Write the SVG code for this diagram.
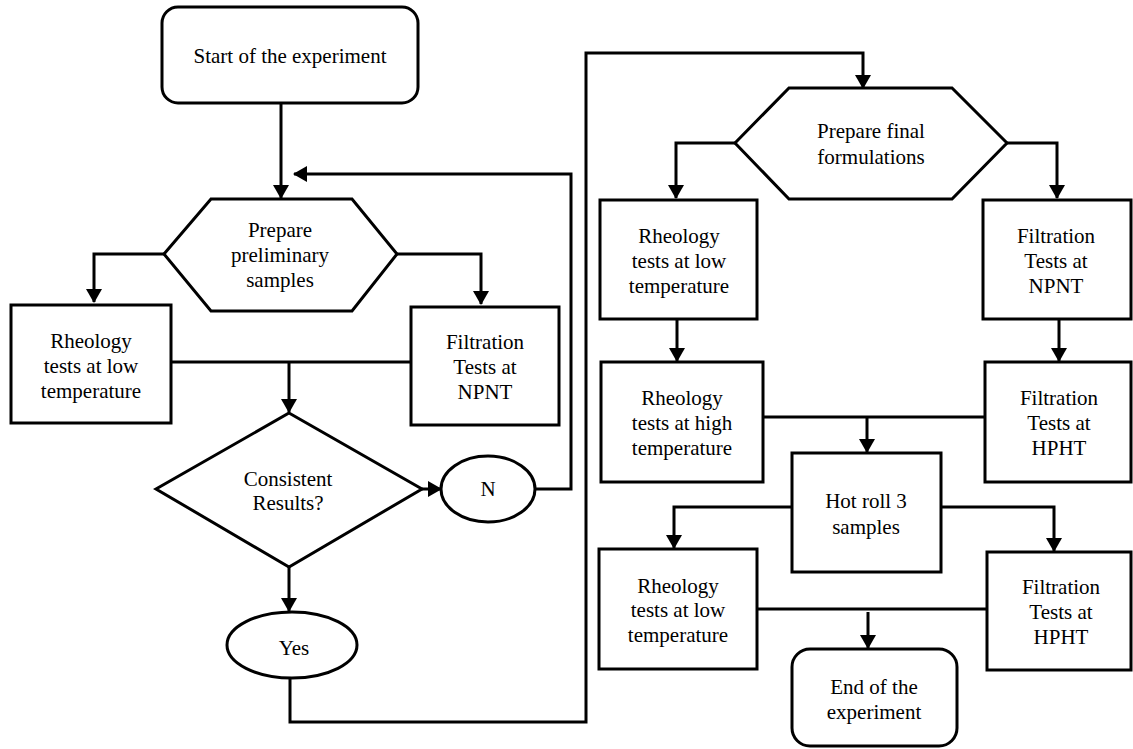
<svg xmlns="http://www.w3.org/2000/svg" width="1133" height="749" viewBox="0 0 1133 749">
<style>
.shape{fill:#fff;stroke:#000;stroke-width:3}
.ln{fill:none;stroke:#000;stroke-width:3}
.t{font-family:'Liberation Serif','DejaVu Serif',serif;font-size:21px;fill:#000;text-anchor:middle}
</style>
<defs>
<marker id="ah" markerUnits="userSpaceOnUse" markerWidth="16" markerHeight="16" viewBox="0 0 14 16" refX="13" refY="8" orient="auto">
<path d="M0,0 L14,8 L0,16 Z" fill="#000"/>
</marker>
</defs>
<rect width="1133" height="749" fill="#fff"/>
<g id="connectors">
<path class="ln" d="M281,103 V198" marker-end="url(#ah)"/>
<path class="ln" d="M164,254 H94 V302" marker-end="url(#ah)"/>
<path class="ln" d="M397,254 H481 V304" marker-end="url(#ah)"/>
<path class="ln" d="M171,362 H411"/>
<path class="ln" d="M289,362 V412" marker-end="url(#ah)"/>
<path class="ln" d="M422,489 H441" marker-end="url(#ah)"/>
<path class="ln" d="M535,489 H571 V174 H294" marker-end="url(#ah)"/>
<path class="ln" d="M289,567 V611" marker-end="url(#ah)"/>
<path class="ln" d="M290,678 V722 H586 V53 H863 V88" marker-end="url(#ah)"/>
<path class="ln" d="M735,143 H676 V198" marker-end="url(#ah)"/>
<path class="ln" d="M1007,143 H1057 V198" marker-end="url(#ah)"/>
<path class="ln" d="M677,320 V361" marker-end="url(#ah)"/>
<path class="ln" d="M1059,320 V361" marker-end="url(#ah)"/>
<path class="ln" d="M763,417 H985"/>
<path class="ln" d="M867,417 V452" marker-end="url(#ah)"/>
<path class="ln" d="M792,507 H674 V548" marker-end="url(#ah)"/>
<path class="ln" d="M941,507 H1054 V551" marker-end="url(#ah)"/>
<path class="ln" d="M757,609 H987"/>
<path class="ln" d="M868,612 V648" marker-end="url(#ah)"/>
</g>
<g class="t" font-family="'Liberation Serif','DejaVu Serif',serif">
<g id="start">
<rect class="shape" x="162" y="7" width="256" height="96" rx="16"/>
<text x="290" y="63">Start of the experiment</text>
</g>
<g id="prep1">
<polygon class="shape" points="164,254 211,199 352,199 397,254 352,311 211,311"/>
<text x="280" y="237">Prepare</text>
<text x="280" y="262">preliminary</text>
<text x="280" y="287">samples</text>
</g>
<g id="rheo1">
<rect class="shape" x="11" y="305" width="160" height="118"/>
<text x="91" y="348">Rheology</text>
<text x="91" y="373">tests at low</text>
<text x="91" y="398">temperature</text>
</g>
<g id="filt1">
<rect class="shape" x="411" y="307" width="148" height="118"/>
<text x="485" y="349">Filtration</text>
<text x="485" y="374">Tests at</text>
<text x="485" y="399">NPNT</text>
</g>
<g id="decision">
<polygon class="shape" points="289,413 422,489 289,567 156,489"/>
<text x="288" y="486">Consistent</text>
<text x="288" y="510">Results?</text>
</g>
<g id="no">
<ellipse class="shape" cx="488" cy="489" rx="47" ry="33"/>
<text x="488" y="496">N</text>
</g>
<g id="yes">
<ellipse class="shape" cx="292" cy="645" rx="65" ry="33"/>
<text x="294" y="655">Yes</text>
</g>
<g id="prep2">
<polygon class="shape" points="735,143 789,88 952,88 1007,143 952,199 789,199"/>
<text x="871" y="138">Prepare final</text>
<text x="871" y="164">formulations</text>
</g>
<g id="rheo2">
<rect class="shape" x="600" y="200" width="157" height="119"/>
<text x="679" y="243">Rheology</text>
<text x="679" y="268">tests at low</text>
<text x="679" y="293">temperature</text>
</g>
<g id="filt2">
<rect class="shape" x="983" y="200" width="148" height="119"/>
<text x="1056" y="243">Filtration</text>
<text x="1056" y="268">Tests at</text>
<text x="1056" y="293">NPNT</text>
</g>
<g id="rheo3">
<rect class="shape" x="601" y="362" width="162" height="120"/>
<text x="682" y="405">Rheology</text>
<text x="682" y="430">tests at high</text>
<text x="682" y="455">temperature</text>
</g>
<g id="filt3">
<rect class="shape" x="985" y="362" width="146" height="120"/>
<text x="1059" y="405">Filtration</text>
<text x="1059" y="430">Tests at</text>
<text x="1059" y="455">HPHT</text>
</g>
<g id="hotroll">
<rect class="shape" x="792" y="453" width="149" height="119"/>
<text x="866" y="508">Hot roll 3</text>
<text x="866" y="534">samples</text>
</g>
<g id="rheo4">
<rect class="shape" x="599" y="549" width="158" height="120"/>
<text x="678" y="593">Rheology</text>
<text x="678" y="617">tests at low</text>
<text x="678" y="642">temperature</text>
</g>
<g id="filt4">
<rect class="shape" x="987" y="552" width="144" height="118"/>
<text x="1061" y="594">Filtration</text>
<text x="1061" y="619">Tests at</text>
<text x="1061" y="644">HPHT</text>
</g>
<g id="end">
<rect class="shape" x="792" y="649" width="165" height="97" rx="18"/>
<text x="874" y="694">End of the</text>
<text x="874" y="719">experiment</text>
</g>
</g>
</svg>
